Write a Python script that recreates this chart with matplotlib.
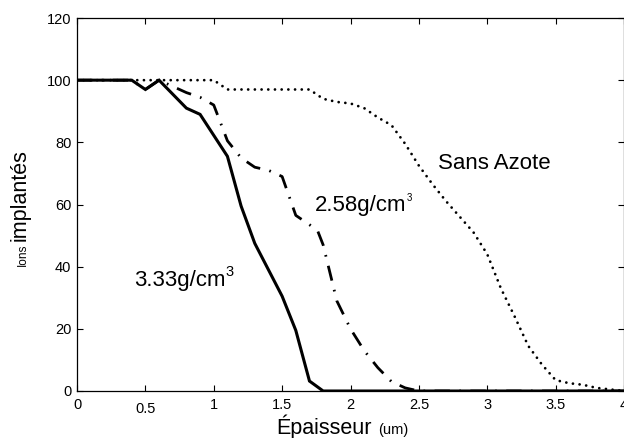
import matplotlib
matplotlib.use("Agg")
import matplotlib.pyplot as plt
from matplotlib.transforms import ScaledTranslation

plt.rcParams["font.family"] = ["Liberation Sans", "DejaVu Sans"]

# 3.33 g/cm3 (solid)
x_333 = [0, 0.4, 0.5, 0.6, 0.8, 0.9, 1.1, 1.2, 1.3, 1.5, 1.6, 1.7, 1.8, 4.0]
y_333 = [100, 100, 97, 100, 91, 89, 75.5, 59.5, 47.5, 30.5, 19.5, 3.2, 0, 0]

# 2.58 g/cm3 (dash-dot)
x_258 = [0, 0.4, 0.5, 0.6, 0.7, 0.8, 0.9, 1.0, 1.1, 1.2, 1.3, 1.4, 1.5,
         1.6, 1.7, 1.76, 1.8, 1.9, 2.0, 2.1, 2.2, 2.3, 2.4, 2.5, 4.0]
y_258 = [100, 100, 97, 100, 98, 96, 94.5, 92, 80.5, 75, 72, 71, 69,
         56.5, 53.5, 51.5, 47, 29, 20, 13, 7.5, 3, 1, 0, 0]

# sans azote (dotted)
x_sa = [0, 1.0, 1.1, 1.7, 1.8, 1.9, 2.0, 2.1, 2.2, 2.3, 2.4, 2.5, 2.6, 2.7,
        2.8, 2.9, 3.0, 3.1, 3.2, 3.3, 3.4, 3.5, 3.6, 3.7, 3.8, 3.9, 4.0]
y_sa = [100, 100, 97, 97, 94, 93, 92.5, 91, 88, 85.5, 79.5, 72.5, 66.5, 61,
        56, 51, 44, 33, 24, 14.5, 8.5, 3.5, 2.5, 2, 1, 0.5, 0]

xticks = [0, 0.5, 1, 1.5, 2, 2.5, 3, 3.5, 4]
xticklabels = ["0", "0.5", "1", "1.5", "2", "2.5", "3", "3.5", "4"]
yticks = [0, 20, 40, 60, 80, 100, 120]

fig = plt.figure(figsize=(6.24, 4.38), dpi=100)
ax = fig.add_axes([77 / 624, 1 - 391 / 438, 547 / 624, 373 / 438])

ax.plot(x_sa, y_sa, color="black", lw=2.0, linestyle=(0, (0.01, 2.4)),
        dash_capstyle="round")
ax.plot(x_258, y_258, color="black", lw=2.0,
        linestyle=(0, (5.5, 3.4, 0.6, 3.4)))
ax.plot(x_333, y_333, color="black", lw=2.2, solid_joinstyle="miter")

ax.set_xlim(0, 4)
ax.set_ylim(0, 120)
ax.set_xticks(xticks)
ax.set_xticklabels(xticklabels)
ax.set_yticks(yticks)
ax.tick_params(direction="in", length=4, width=0.8, labelsize=10.5,
               top=True, right=True, color="black")
ax.tick_params(axis="x", pad=5)
ax.tick_params(axis="y", pad=4)
for s in ax.spines.values():
    s.set_linewidth(0.9)

# "0.5" sits a little lower in the original
lbl = ax.get_xticklabels()[1]
lbl.set_transform(lbl.get_transform() + ScaledTranslation(0, -3 / 72, fig.dpi_scale_trans))

ax.text(2.64, 73.3, "Sans Azote", fontsize=16, va="center", ha="left")
t1 = ax.text(1.74, 59.8, "2.58g/cm", fontsize=16, va="center", ha="left")
ax.annotate("3", xy=(1, 0.62), xycoords=t1, fontsize=7, va="bottom", ha="left")
t2 = ax.text(0.42, 35.7, "3.33g/cm", fontsize=16, va="center", ha="left")
ax.annotate("3", xy=(1, 0.55), xycoords=t2, fontsize=10.5, va="bottom", ha="left")

fig.text(276 / 624, 1 - 434 / 438, "Épaisseur", fontsize=15.5,
         ha="left", va="baseline")
fig.text(378 / 624, 1 - 434 / 438, "(um)", fontsize=10.5,
         ha="left", va="baseline")
fig.text(26 / 624, 1 - 241 / 438, "implantés", fontsize=15.5, rotation=90,
         rotation_mode="anchor", ha="left", va="baseline")
fig.text(26 / 624, 1 - 266 / 438, "Ions", fontsize=8.5, rotation=90,
         rotation_mode="anchor", ha="left", va="baseline")

fig.savefig("out.png", dpi=100)
